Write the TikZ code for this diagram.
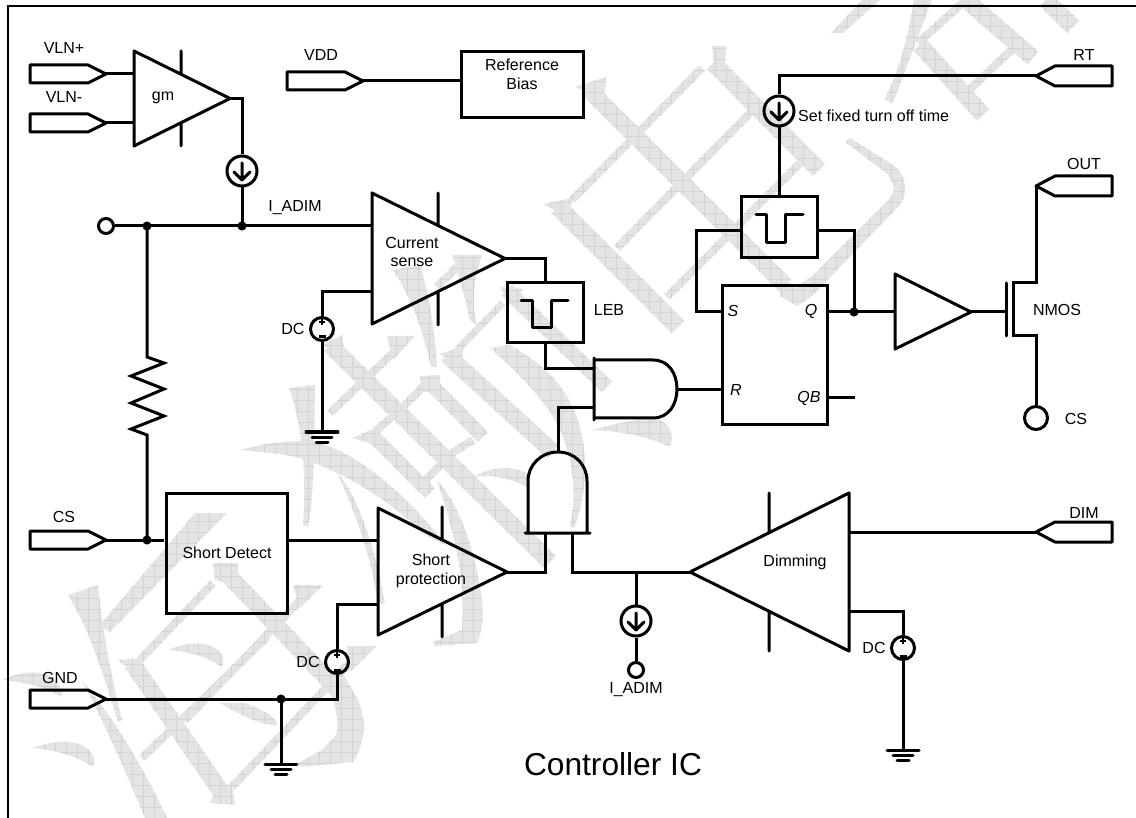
\documentclass[tikz,border=0pt]{standalone}
\usepackage{fontspec}
\setmainfont{Liberation Sans}
\usetikzlibrary{calc,patterns.meta}
\definecolor{wmc}{HTML}{E4E4E4}
\definecolor{wml}{HTML}{D3D3D3}
\tikzset{
  wm/.style={preaction={fill=wmc},preaction={pattern={Lines[angle=0,distance=11pt,line width=.6pt]},pattern color=wml},pattern={Lines[angle=90,distance=11pt,line width=.6pt]},pattern color=wml},
  wire/.style={draw=black,line width=3pt,line join=miter},
  part/.style={draw=black,line width=3pt,line join=round,line cap=round},
  lbl/.style={font=\fontsize{16}{18.5}\selectfont,inner sep=0pt,text=black},
  ilbl/.style={font=\fontsize{16}{18.5}\itshape\selectfont,inner sep=0pt,text=black},
  dot/.style={circle,fill=black,draw=black,line width=1pt,minimum size=8pt,inner sep=0pt},
  ring/.style={circle,draw=black,line width=3pt,inner sep=0pt},
  boxy/.style={draw=black,line width=3pt,inner sep=0pt},
}
\newcommand{\wmb}[5]{\fill[wm] ($(#1,#2)!#5pt!90:(#3,#4)$) -- ($(#1,#2)!#5pt!-90:(#3,#4)$) -- ($(#3,#4)!#5pt!90:(#1,#2)$) -- ($(#3,#4)!#5pt!-90:(#1,#2)$) -- cycle;}
% name, x left, y centre : port pointing right; tip coordinate is the name
\newcommand{\portR}[3]{\coordinate (#1) at (#2+76,#3);\draw[part] (#2,#3-9) -- (#2+58,#3-9) -- (#1) -- (#2+58,#3+9) -- (#2,#3+9) -- cycle;}
% name, x of tip, y centre : port pointing left
\newcommand{\portL}[3]{\coordinate (#1) at (#2,#3);\draw[part] (#1) -- (#2+19,#3-10) -- (#2+76,#3-10) -- (#2+76,#3+10) -- (#2+19,#3+10) -- cycle;}
% name, x, y : current source
\newcommand{\isrc}[3]{\node[ring,minimum size=30pt] (#1) at (#2,#3) {};\draw[part] (#2,#3-8) -- (#2,#3+9) (#2-8,#3+1) -- (#2,#3+9) -- (#2+8,#3+1);}
% name, x, y : DC source
\newcommand{\dcsrc}[3]{\node[ring,minimum size=23pt] (#1) at (#2,#3) {};\draw[line width=2pt] (#2-3,#3-7) -- (#2+3,#3-7) (#2,#3-10) -- (#2,#3-4);\draw[line width=3pt] (#2-3.5,#3+8) -- (#2+3.5,#3+8);}
% name, x, y : ground
\newcommand{\gnd}[3]{\coordinate (#1) at (#2,#3);\draw[part] (#2-16,#3) -- (#2+16,#3) (#2-10,#3+5.5) -- (#2+10,#3+5.5) (#2-6,#3+10.5) -- (#2+6,#3+10.5);}
\begin{document}
\begin{tikzpicture}[x=1pt,y=-1pt]
\useasboundingbox (0,0) rectangle (1136,818);
% ---------- watermark ----------
\wmb{587}{88}{785}{285}{8.5}
\fill[wm] (575,87) -- (606,77) -- (604,100) -- cycle;
\fill[wm] (780,276) -- (796,288) -- (812,276) -- (890,198) .. controls (897,190) and (893,180) .. (885,172) -- (845,142) -- (850,138) -- (890,163) .. controls (905,172) and (910,190) .. (900,205) -- (812,296) -- (797,306) -- (780,296) -- cycle;
\wmb{558}{207}{678}{327}{9}
\fill[wm] (543,204) -- (573,198) -- (568,218) -- cycle;
\wmb{572}{200}{702}{68}{4}
\wmb{617}{248}{755}{108}{4}
\wmb{667}{297}{800}{163}{4}
\fill[wm] (712,46) -- (726,46) -- (725,66) -- (714,66) -- cycle;
\wmb{713}{63}{819}{170}{8.5}
\fill[wm] (831,33) -- (862,0) -- (880,0) -- (843,33) -- cycle;
\fill[wm] (914,0) -- (932,0) -- (893,103) -- (884,100) .. controls (900,70) and (908,35) .. (914,0) -- cycle;
\wmb{920}{45}{983}{115}{8.5}
\wmb{918}{43}{966}{0}{4}
\wmb{966}{0}{1033}{58}{8.5}
\wmb{1046}{0}{1073}{27}{8.5}
\wmb{969}{90}{1019}{43}{4}
% centre group
\wmb{330}{345}{550}{562}{8.5}
\fill[wm] (322,345) -- (342,335) -- (345,355) -- cycle;
\wmb{330}{413}{393}{353}{4}
\fill[wm] (387,336) -- (415,336) -- (393,360) -- cycle;
\wmb{430}{383}{483}{437}{7}
\fill[wm] (420,376) -- (440,375) -- (440,392) -- (422,392) -- cycle;
\wmb{403}{407}{427}{383}{4}
\wmb{452}{453}{473}{440}{4}
\wmb{370}{433}{430}{493}{7}
\fill[wm] (352,438) -- (378,427) -- (375,445) -- cycle;
\wmb{377}{430}{403}{407}{4}
\wmb{423}{483}{452}{453}{4}
\wmb{447}{355}{553}{452}{8.5}
\fill[wm] (440,354) -- (463,346) -- (462,368) -- cycle;
\fill[wm] (490,348) -- (510,345) .. controls (545,365) and (565,385) .. (578,420) .. controls (590,460) and (585,500) .. (574,528) -- (570,526) .. controls (578,490) and (572,450) .. (555,420) .. controls (540,395) and (515,370) .. (490,348) -- cycle;
\fill[wm] (437,480) .. controls (460,505) and (475,550) .. (482,600) .. controls (484,620) and (482,632) .. (477,643) -- (435,646) -- (433,642) -- (462,630) .. controls (465,590) and (460,550) .. (437,480) -- cycle;
\fill[wm] (240,450) .. controls (270,442) and (300,438) .. (325,445) .. controls (370,460) and (420,510) .. (445,545) -- (425,535) .. controls (390,500) and (340,470) .. (300,458) .. controls (280,453) and (260,452) .. (240,450) -- cycle;
\fill[wm] (337,473) .. controls (355,490) and (375,545) .. (385,604) -- (378,604) .. controls (372,560) and (355,510) .. (337,473) -- cycle;
\fill[wm] (289,388) -- (315,385) .. controls (314,430) and (315,490) .. (308,527) -- (303,525) .. controls (306,480) and (304,430) .. (289,388) -- cycle;
\fill[wm] (393,270) -- (420,265) .. controls (428,290) and (435,330) .. (437,367) -- (431,367) .. controls (423,330) and (410,295) .. (393,270) -- cycle;
\fill[wm] (452,255) -- (482,255) .. controls (472,285) and (472,305) .. (477,325) -- (470,320) .. controls (465,300) and (460,275) .. (452,255) -- cycle;
\wmb{437}{287}{457}{267}{4}
\wmb{457}{350}{503}{303}{3.5}
\fill[wm] (500,287) -- (523,289) -- (510,305) -- cycle;
\wmb{507}{290}{607}{387}{7.5}
\fill[wm] (593,430) .. controls (620,422) and (640,418) .. (660,420) .. controls (670,425) and (674,435) .. (670,447) .. controls (650,437) and (620,431) .. (593,430) -- cycle;
\fill[wm] (473,477) .. controls (490,467) and (510,465) .. (527,473) -- (527,487) .. controls (510,478) and (490,474) .. (473,477) -- cycle;
% lower-left group
\fill[wm] (195,513) -- (227,513) -- (110,632) -- (100,625) -- cycle;
\fill[wm] (68,595) -- (98,585) .. controls (102,630) and (112,680) .. (122,720) -- (118,722) .. controls (105,680) and (90,630) .. (68,595) -- cycle;
\fill[wm] (2,680) .. controls (20,672) and (40,668) .. (55,680) .. controls (60,685) and (62,692) .. (62,697) .. controls (45,687) and (25,682) .. (2,680) -- cycle;
\fill[wm] (82,680) .. controls (115,720) and (145,770) .. (167,818) -- (145,818) .. controls (125,770) and (105,725) .. (82,680) -- cycle;
\fill[wm] (32,748) .. controls (50,742) and (70,738) .. (85,747) .. controls (93,752) and (96,760) .. (93,767) .. controls (75,755) and (55,750) .. (32,748) -- cycle;
\fill[wm] (168,650) .. controls (185,643) and (205,640) .. (218,650) .. controls (223,655) and (225,660) .. (222,667) .. controls (205,656) and (190,652) .. (168,650) -- cycle;
\fill[wm] (220,703) -- (245,703) .. controls (262,710) and (275,715) .. (277,725) .. controls (265,727) and (240,715) .. (220,703) -- cycle;
\wmb{228}{575}{338}{690}{8.5}
\fill[wm] (213,563) -- (238,563) -- (238,585) -- (215,580) -- cycle;
\fill[wm] (322,676) -- (340,668) -- (358,700) .. controls (367,720) and (365,745) .. (353,762) -- (300,767) -- (298,763) -- (322,750) -- (336,735) .. controls (340,720) and (335,700) .. (322,676) -- cycle;
\wmb{132}{663}{222}{793}{8.5}
\fill[wm] (117,660) -- (143,658) -- (140,675) -- cycle;
\fill[wm] (210,803) -- (235,805) -- (232,785) -- (218,785) -- cycle;
\wmb{140}{660}{213}{583}{4}
\wmb{142}{758}{267}{637}{4}
\wmb{185}{720}{310}{590}{4}
\fill[wm] (293,585) -- (323,585) -- (300,608) -- cycle;
\wmb{232}{787}{360}{652}{4}
\fill[wm] (347,646) -- (377,646) -- (350,672) -- cycle;
% ---------- frame ----------
\draw[line width=2pt] (7.5,818) -- (7.5,6) -- (1136,6);
% ---------- amplifiers (drawn as outlines, no fill) ----------
\draw[part] (134,51) -- (230,98.5) -- (134,146) -- cycle (181,51) -- (181,74) (181,123) -- (181,146);
\node[lbl] (tgm) at (163,98) {gm};
\draw[part] (372,193) -- (505,258.5) -- (372,324) -- cycle (438,193) -- (438,226) (438,291) -- (438,325);
\node[lbl,align=center] (tcur) at (412,252) {Current\\sense};
\draw[part] (378,508) -- (507,572) -- (378,635) -- cycle (442,507) -- (442,539) (442,604) -- (442,637);
\node[lbl,align=center] (tshort) at (431,571) {Short\\protection};
\draw[part] (690,572) -- (849,493) -- (849,651) -- cycle (769,493) -- (769,532) (769,612) -- (769,651);
\node[lbl] (tdim) at (795,562) {Dimming};
\draw[part] (895,274) -- (971,312) -- (895,349) -- cycle;
% ---------- boxes ----------
\node[boxy,minimum width=122pt,minimum height=66pt] (ref) at (522,85) {};
\node[lbl,align=center] (tref) at (522,74.5) {Reference\\Bias};
\node[boxy,minimum width=121pt,minimum height=120pt] (sd) at (227,553) {};
\node[lbl] (tsd) at (227,552.5) {Short Detect};
\node[boxy,minimum width=76pt,minimum height=60pt] (leb) at (545,313) {};
\node[lbl] (tleb) at (609,310) {LEB};
\draw[part] (521,301) -- (532,301) -- (532,328) -- (551,328) -- (551,301) -- (568,301);
\node[boxy,minimum width=76pt,minimum height=61pt] (pb) at (779,227.5) {};
\draw[part] (756,215) -- (766,215) -- (766,243) -- (785,243) -- (785,215) -- (803,215);
\node[boxy,minimum width=105pt,minimum height=139pt] (sr) at (774.5,355.5) {};
\node[ilbl] (ts) at (733,311) {S};
\node[ilbl] (tq) at (811,311) {Q};
\node[ilbl] (tr) at (736,390) {R};
\node[ilbl] (tqb) at (809,398) {QB};
% ---------- gates ----------
\draw[part] (653,360) -- (594,360) (594,418) -- (653,418) (653,360) .. controls (669,360) and (677,374) .. (677,389) .. controls (677,404) and (669,418) .. (653,418) (594,358) -- (594,420);
\draw[part] (528,533) -- (528,481) .. controls (528,465) and (541,452) .. (558,452) .. controls (575,452) and (587,465) .. (587,481) -- (587,533) (525,533) -- (590,533);
\coordinate (a1a) at (594,369);\coordinate (a1b) at (594,408);\coordinate (a1o) at (677,390);
\coordinate (a2t) at (558,452);\coordinate (a2a) at (545,533);\coordinate (a2b) at (572,533);
% ---------- ports ----------
\portR{vlnp}{30}{74} \node[lbl] (tvp) at (64,48) {VLN+};
\portR{vlnm}{30}{123} \node[lbl] (tvm) at (64,97) {VLN-};
\portR{vdd}{287}{81} \node[lbl] (tvdd) at (321,55) {VDD};
\portR{csin}{30}{540} \node[lbl] (tcs) at (64,517) {CS};
\portR{gnd}{30}{699} \node[lbl] (tgnd) at (60,678) {GND};
\portL{rt}{1036}{76} \node[lbl] (trt) at (1084,55) {RT};
\portL{out}{1036}{186} \node[lbl] (tout) at (1084,164) {OUT};
\portL{dim}{1036}{532} \node[lbl] (tdimp) at (1084,513) {DIM};
% ---------- sources ----------
\isrc{i1}{242}{171}
\isrc{i2}{779}{111}
\isrc{i3}{636}{621}
\node[lbl,anchor=west] (tset) at (798,115.5) {Set fixed turn off time};
\dcsrc{dc1}{322}{329} \node[lbl] (tdc1) at (293,329) {DC};
\dcsrc{dc2}{337}{662} \node[lbl] (tdc2) at (308,662) {DC};
\dcsrc{dc3}{903}{648} \node[lbl] (tdc3) at (874,648) {DC};
\gnd{g1}{322}{432}
\gnd{g2}{281}{764}
\gnd{g3}{903}{750}
% ---------- terminals ----------
\node[ring,minimum size=15pt] (o1) at (106,226) {};
\node[ring,minimum size=15pt] (o2) at (636,670) {};
\node[lbl] (tia2) at (636,690) {I\_ADIM};
\node[ring,minimum size=23pt] (o3) at (1036,418) {};
\node[lbl] (tcs2) at (1076,419) {CS};
\node[lbl] (tia) at (295,208) {I\_ADIM};
\node[lbl] (tnm) at (1057,310) {NMOS};
\node[font=\fontsize{31.7}{36}\selectfont,inner sep=0pt] (tic) at (613,764) {Controller IC};
% ---------- connection points ----------
\coordinate (gma) at (134,74);\coordinate (gmb) at (134,123);\coordinate (gmo) at (230,98.5);
\coordinate (j2) at (242,226);\coordinate (j1) at (147,226);\coordinate (j3) at (147,540);\coordinate (j4) at (281,699);
\coordinate (csa) at (372,226);\coordinate (csb) at (372,292);\coordinate (cso) at (505,258.5);
\coordinate (spa) at (378,540);\coordinate (spb) at (378,604);\coordinate (spo) at (507,572);
\coordinate (dmi) at (690,572);\coordinate (dmo) at (849,532);\coordinate (dmb) at (849,611);
\coordinate (j5) at (636,572);
\coordinate (srs) at (722,312);\coordinate (srr) at (722,390);\coordinate (srq) at (827,312);\coordinate (srqb) at (827,398);\coordinate (qbend) at (855,398);
\coordinate (j6) at (854,312);\coordinate (bufi) at (895,312);\coordinate (bufo) at (971,312);
\coordinate (gate) at (1006,312);\coordinate (dr) at (1036,283);\coordinate (so) at (1036,336);
\coordinate (sdend) at (164,540);
% ---------- wires ----------
\draw[wire] (vlnp) -- (gma);
\draw[wire] (vlnm) -- (gmb);
\draw[wire] (vdd) -- (ref.west |- vdd);
\draw[wire] (gmo) -| (i1.north);
\draw[wire] (i1.south) -- (j2);
\draw[wire] (o1.east) -- (csa);
\draw[wire] (j1) -- (147,357) -- (164,363) -- (131,376) -- (164,389) -- (131,403) -- (164,416) -- (131,429) -- (147,435) -- (j3);
\draw[wire] (csin) -- (sdend);
\draw[wire] (sd.east |- spa) -- (spa);
\draw[wire] (csb) -| (dc1.north);
\draw[wire] (dc1.south) -- (g1);
\draw[wire] (cso) -| (leb.north);
\draw[wire] (leb.south) |- (a1a);
\draw[wire] (a1b) -| (a2t);
\draw[wire] (a1o) -- (srr);
\draw[wire] (spb) -| (dc2.north);
\draw[wire] (dc2.south) |- (gnd);
\draw[wire] (j4) -- (g2);
\draw[wire] (spo) -| (a2a);
\draw[wire] (a2b) |- (dmi);
\draw[wire] (j5) -- (i3.north);
\draw[wire] (i3.south) -- (o2.north);
\draw[wire] (dmo) -- (dim);
\draw[wire] (dmb) -| (dc3.north);
\draw[wire] (dc3.south) -- (g3);
\draw[wire] (rt) -| (i2.north);
\draw[wire] (i2.south) -- (pb.north);
\draw[wire] (pb.west |- 0,231) -- (696,231) |- (srs);
\draw[wire] (pb.east |- 0,231) -| (j6);
\draw[wire] (srq) -- (bufi);
\draw[wire] (srqb) -- (qbend);
\draw[wire] (bufo) -- (gate);
\draw[part] (1006,283) -- (1006,336);
\draw[wire] (out) -- (dr) -- (1013,283) -- (1013,336) -- (so) -- (o3.north);
\node[dot] (dj1) at (j1) {};
\node[dot] (dj2) at (j2) {};
\node[dot] (dj3) at (j3) {};
\node[dot] (dj4) at (j4) {};
\node[dot] (dj6) at (j6) {};
\end{tikzpicture}
\end{document}
